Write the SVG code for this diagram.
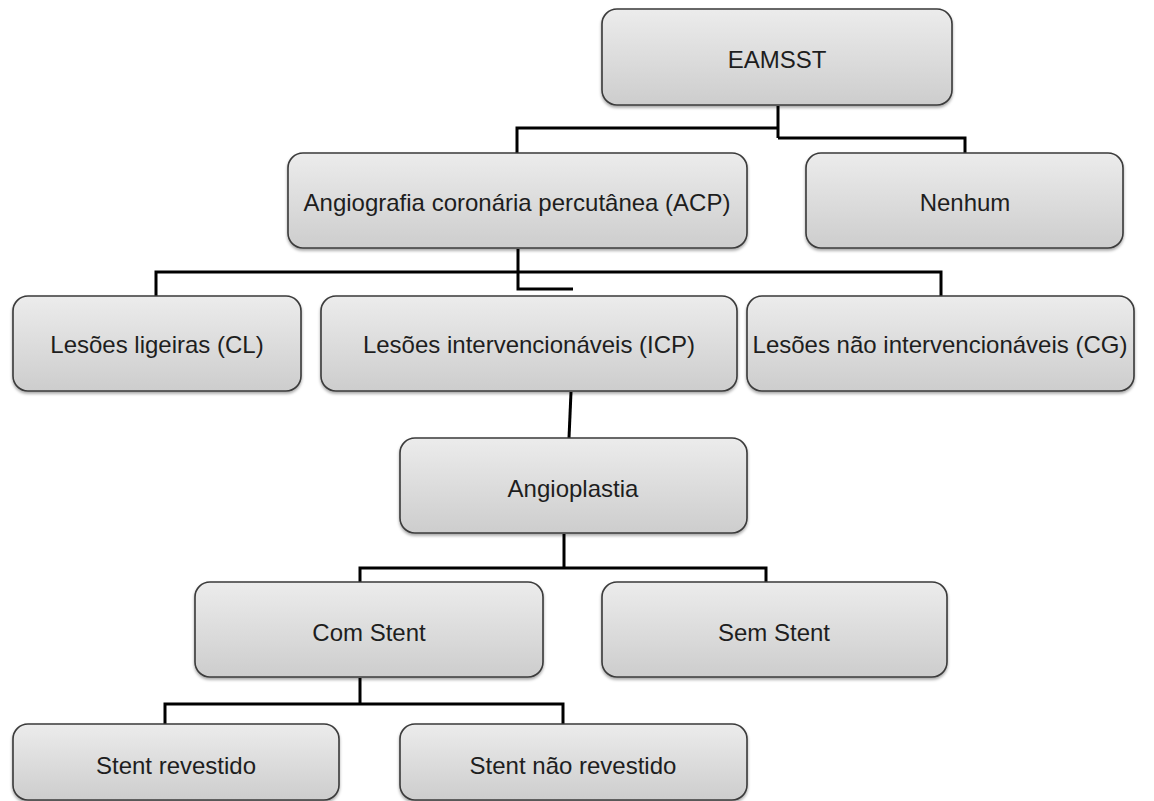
<svg xmlns="http://www.w3.org/2000/svg" width="1154" height="801" viewBox="0 0 1154 801">
<defs>
<linearGradient id="g" x1="0" y1="0" x2="0" y2="1">
<stop offset="0" stop-color="#ececec"/>
<stop offset="1" stop-color="#cdcdcd"/>
</linearGradient>
<filter id="sh" x="-5%" y="-5%" width="110%" height="120%">
<feDropShadow dx="0" dy="2" stdDeviation="1.5" flood-color="#000" flood-opacity="0.35"/>
</filter>
</defs>
<style>
.box{fill:url(#g);stroke:#3a3a3a;stroke-width:1.6;filter:url(#sh)}
.t{font-family:"Liberation Sans",Arial,sans-serif;font-size:24px;fill:#1e1e1e;text-anchor:middle;dominant-baseline:central}
.c{fill:none;stroke:#000;stroke-width:3}
</style>
<rect width="1154" height="801" fill="#fff"/>
<g id="connectors">
<path class="c" d="M778 106V138M517 153V128H778M778 138H965V153"/>
<path class="c" d="M518 249V289H573M156 296V272H941V296"/>
<path class="c" d="M571 392L569 438"/>
<path class="c" d="M564 534V568M360 582V568H766V582"/>
<path class="c" d="M360 678V704M165 724V704H563V724"/>
</g>
<g id="n-eamsst"><rect class="box" x="602" y="9" width="350" height="96" rx="15"/><text class="t" x="777" y="59">EAMSST</text></g>
<g id="n-acp"><rect class="box" x="288" y="153" width="459" height="95" rx="15"/><text class="t" x="517" y="202">Angiografia coronária percutânea (ACP)</text></g>
<g id="n-nenhum"><rect class="box" x="806" y="153" width="317" height="95" rx="15"/><text class="t" x="965" y="202">Nenhum</text></g>
<g id="n-cl"><rect class="box" x="13" y="296" width="288" height="95" rx="15"/><text class="t" x="157" y="344">Lesões ligeiras (CL)</text></g>
<g id="n-icp"><rect class="box" x="321" y="296" width="416" height="95" rx="15"/><text class="t" x="529" y="344">Lesões intervencionáveis (ICP)</text></g>
<g id="n-cg"><rect class="box" x="747" y="296" width="387" height="95" rx="15"/><text class="t" x="940" y="344">Lesões não intervencionáveis (CG)</text></g>
<g id="n-angio"><rect class="box" x="400" y="438" width="347" height="95" rx="15"/><text class="t" x="573" y="488">Angioplastia</text></g>
<g id="n-com"><rect class="box" x="195" y="582" width="348" height="95" rx="15"/><text class="t" x="369" y="632">Com Stent</text></g>
<g id="n-sem"><rect class="box" x="602" y="582" width="345" height="95" rx="15"/><text class="t" x="774" y="632">Sem Stent</text></g>
<g id="n-rev"><rect class="box" x="13" y="724" width="326" height="76" rx="15"/><text class="t" x="176" y="765">Stent revestido</text></g>
<g id="n-naorev"><rect class="box" x="400" y="724" width="347" height="76" rx="15"/><text class="t" x="573" y="765">Stent não revestido</text></g>
</svg>
